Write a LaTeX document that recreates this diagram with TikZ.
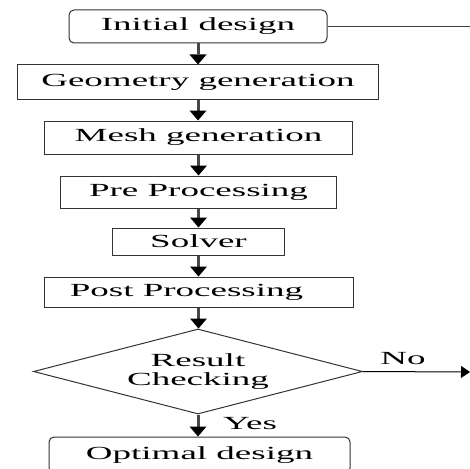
\documentclass[tikz,border=0pt]{standalone}
\usepackage{fontspec}
\setmainfont{Liberation Serif}[FakeStretch=2.0]
\usetikzlibrary{shapes.geometric,arrows.meta}
\begin{document}
\begin{tikzpicture}[x=1pt,y=-1pt,
  every node/.style={font=\fontsize{18.5}{19}\selectfont, inner sep=0pt, text=black},
  procbox/.style={draw=black!80, line width=1pt, rectangle},
  termbox/.style={procbox, rounded corners=5pt},
  decbox/.style={draw=black!80, line width=1pt, diamond, shape aspect=3.87, align=center},
  flow/.style={draw=black!72, line width=3pt, -{Triangle[width=17pt,length=10pt,line width=0pt,fill=black,color=black]}},
  thinflow/.style={draw=black, line width=1pt},
  lbl/.style={font=\fontsize{18.5}{19}\selectfont}]
\useasboundingbox (0,0) rectangle (470,468);
\clip (0,0) rectangle (470,468);
\node[termbox, minimum width=258pt, minimum height=33pt] (init) at (198,26.5) {Initial design};
\node[procbox, minimum width=361pt, minimum height=34pt] (geom) at (198,82) {Geometry generation};
\node[procbox, minimum width=308pt, minimum height=33pt] (mesh) at (198.5,137.5) {Mesh generation};
\node[procbox, minimum width=276pt, minimum height=32pt] (pre) at (198.5,192) {Pre Processing};
\node[procbox, minimum width=172pt, minimum height=27pt] (solver) at (198.5,241.5) {Solver};
\node[procbox, minimum width=309pt, minimum height=30pt] (post) at (198.5,292) {Post Processing\hspace*{24pt}};
\node[decbox, minimum width=329pt, minimum height=85pt] (check) at (198,371.5) {Result\\Checking};
\node[termbox, minimum width=301pt, minimum height=36pt] (opt) at (199.5,455) {Optimal design};
\coordinate (initout) at (472,26.5);
\coordinate (noout) at (470,372);
\draw[flow] (init.south) -- (init.south |- geom.north);
\draw[flow] (geom.south) -- (geom.south |- mesh.north);
\draw[flow] (mesh.south) -- (mesh.south |- pre.north);
\draw[flow] (pre.south) -- (pre.south |- solver.north);
\draw[flow] (solver.south) -- (solver.south |- post.north);
\draw[flow] (post.south) -- (post.south |- check.north);
\draw[flow] (check.south) -- (check.south |- opt.north);
\draw[thinflow, draw=black!75] (init.east) -- (initout);
\draw[thinflow, -{Triangle[width=12pt,length=9pt]}] (check.east) -- (noout);
\node[lbl] (nolbl) at (403,358.5) {No};
\node[lbl] (yeslbl) at (250,424) {Yes};
\end{tikzpicture}
\end{document}
